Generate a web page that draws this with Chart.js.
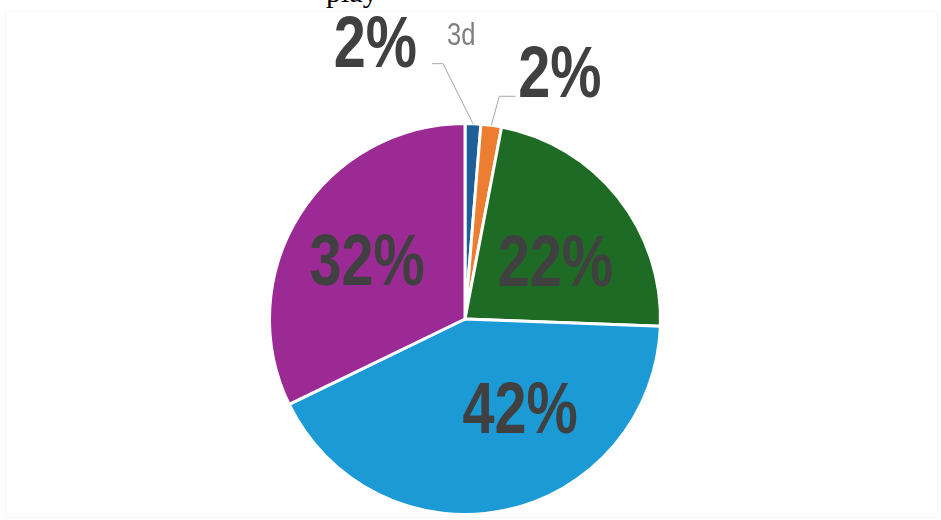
<!DOCTYPE html>
<html>
<head>
<meta charset="utf-8">
<script src="https://cdn.jsdelivr.net/npm/chart.js@4"></script>
<style>
  body { margin: 0; background: #fff; }
  #wrap { position: relative; width: 941px; height: 520px; overflow: hidden; }
  #frame { position: absolute; left: 5px; top: 11px; right: 3px; bottom: 2px; border: 1px solid #f6f6f6; }
  #cut { position: absolute; left: 326px; top: -23px; font: 30px/30px "Liberation Serif", serif; color: #000; }
  canvas { position: absolute; left: 0; top: 0; }
</style>
</head>
<body>
<div id="wrap">
  <div id="frame"></div>
  <div id="cut">play</div>
  <canvas id="myChart" width="941" height="520"></canvas>
</div>
<script>
let categories = ["3d", "b", "c", "d", "e"];
let values = [1.3, 1.7, 22.6, 42.2, 32.2];
let valueLabels = ["2%", "2%", "22%", "42%", "32%"];
let sliceColors = ["#1f5f99", "#ed7d31", "#1e6b25", "#1b9ad6", "#9b2a95"];

// where each percentage goes, relative to the slice (inside ones) or leader elbow (outside ones)
let labelPlace = [
    {outside: true, elbow: [-30, -60], arm: -11, text: [-15, 3], align: "right"},
    {outside: true, elbow: [8, -29], arm: 16, text: [3, 1], align: "left"},
    {outside: false, text: [14, 28]},
    {outside: false, text: [35, 18]},
    {outside: false, text: [-15, 18]}
];

// no narrow font installed, so squeeze Liberation Sans sideways
function narrowText(ctx, txt, x, y, align, font, color) {
    ctx.save();
    ctx.font = font;
    ctx.fillStyle = color;
    ctx.textAlign = align;
    ctx.textBaseline = "alphabetic";
    ctx.translate(x, y);
    ctx.scale(0.8, 1);
    ctx.fillText(txt, 0, 0);
    ctx.restore();
}

const bigFont = "bold 72px 'Liberation Sans', Arial, sans-serif";
const smallFont = "32px 'Liberation Sans', Arial, sans-serif";

const pieLabels = {
    id: "pieLabels",
    afterDatasetsDraw(chart) {
        const ctx = chart.ctx;
        const arcs = chart.getDatasetMeta(0).data;
        arcs.forEach((arc, i) => {
            const p = labelPlace[i];
            const a = (arc.startAngle + arc.endAngle) / 2;
            if (p.outside) {
                const sx = arc.x + Math.cos(a) * arc.outerRadius;
                const sy = arc.y + Math.sin(a) * arc.outerRadius;
                const ex = sx + p.elbow[0], ey = sy + p.elbow[1];
                ctx.save();
                ctx.strokeStyle = "#a6a6a6";
                ctx.lineWidth = 1;
                ctx.beginPath();
                ctx.moveTo(sx, sy);
                ctx.lineTo(ex, ey);
                ctx.lineTo(ex + p.arm, ey);
                ctx.stroke();
                ctx.restore();
                narrowText(ctx, valueLabels[i], ex + p.arm + p.text[0], ey + p.text[1], p.align, bigFont, "#404040");
                if (i === 0) {
                    narrowText(ctx, categories[0], ex + 4, ey - 19, "left", smallFont, "#7f7f7f");
                }
            } else {
                const t = arc.tooltipPosition();
                narrowText(ctx, valueLabels[i], t.x + p.text[0], t.y + p.text[1], "center", bigFont, "#404040");
            }
        });
    }
};

new Chart("myChart", {
    type: "pie",
    data: {
        labels: categories,
        datasets: [{
            data: values,
            backgroundColor: sliceColors,
            borderColor: "#ffffff",
            borderWidth: 3
        }]
    },
    options: {
        responsive: false,
        animation: false,
        layout: {padding: {top: 122, bottom: 4, left: 0, right: 11}},
        plugins: {
            legend: {display: false},
            tooltip: {enabled: false}
        }
    },
    plugins: [pieLabels]
});
</script>
</body>
</html>
